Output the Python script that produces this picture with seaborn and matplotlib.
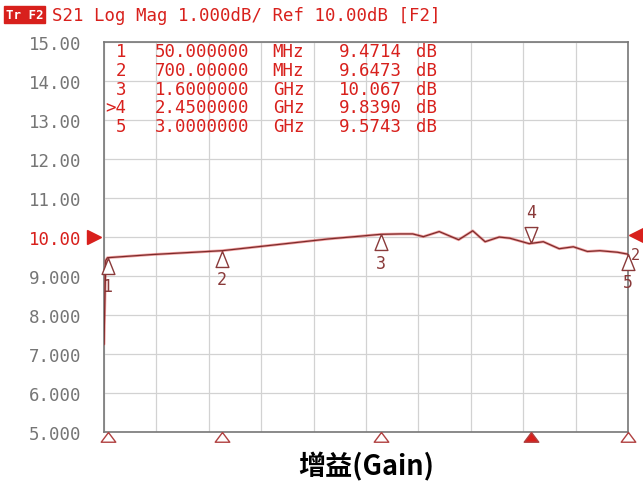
import matplotlib
matplotlib.use("Agg")
import matplotlib.pyplot as plt
import matplotlib.transforms as mtrans
import numpy as np
import pandas as pd
import seaborn as sns
from matplotlib.path import Path

# trace (GHz, dB)
freq_ghz = [0.03, 0.04, 0.05, 0.30, 0.70, 1.00, 1.30, 1.60, 1.71, 1.78, 1.84,
            1.93, 2.04, 2.12, 2.19, 2.27, 2.33, 2.44, 2.52, 2.61, 2.69, 2.77,
            2.84, 2.94, 3.00]
gain_db = [7.25, 9.40, 9.47, 9.55, 9.65, 9.80, 9.95, 10.07, 10.08, 10.08, 10.01,
           10.14, 9.93, 10.16, 9.88, 10.00, 9.97, 9.83, 9.88, 9.70, 9.75, 9.63,
           9.65, 9.61, 9.56]

marker_ids = ["1", "2", "3", "4", "5"]
marker_ghz = [0.05, 0.70, 1.60, 2.45, 3.00]
marker_db = [9.4714, 9.6473, 10.067, 9.8390, 9.5743]
marker_freq_txt = ["50.000000", "700.00000", "1.6000000", "2.4500000", "3.0000000"]
marker_unit = ["MHz", "MHz", "GHz", "GHz", "GHz"]
marker_val_txt = ["9.4714", "9.6473", "10.067", "9.8390", "9.5743"]
active_marker = "4"

y_ticks = [15, 14, 13, 12, 11, 10, 9, 8, 7, 6, 5]
y_tick_labels = ["15.00", "14.00", "13.00", "12.00", "11.00", "10.00",
                 "9.000", "8.000", "7.000", "6.000", "5.000"]
x_start, x_stop = 0.03, 3.0
ref_level = 10.0

RED = "#d8201c"
TRACE = "#7d2b2b"
MK = "#8a3a3a"
GREY = "#757575"
MONO = "DejaVu Sans Mono"

sns.set_style("white")
plt.rcParams["font.family"] = ["Noto Sans CJK SC", "DejaVu Sans"]

fig = plt.figure(figsize=(6.43, 4.85), dpi=100)
ax = fig.add_axes([0.1617, 0.1072, 0.815, 0.804])

df = pd.DataFrame({"freq": freq_ghz, "gain": gain_db})
# red glow under a darker trace, like the analyzer screen
sns.lineplot(data=df, x="freq", y="gain", ax=ax, color="#e03030", lw=2.0,
             alpha=0.45, zorder=3)
sns.lineplot(data=df, x="freq", y="gain", ax=ax, color=TRACE, lw=0.9, zorder=4)

ax.set_xlim(x_start, x_stop)
ax.set_ylim(5, 15)
ax.set_xticks(np.linspace(x_start, x_stop, 11))
ax.set_xticklabels([])
ax.set_yticks(y_ticks)
ax.set_yticklabels(y_tick_labels, family=MONO, fontsize=12.5, color=GREY)
for lbl in ax.get_yticklabels():
    if lbl.get_text() == "10.00":
        lbl.set_color(RED)
ax.tick_params(axis="y", length=0, pad=16)
ax.tick_params(axis="x", length=0)
ax.grid(True, color="#d2d2d2", lw=0.9)
ax.set_xlabel("")
ax.set_ylabel("")
for sp in ax.spines.values():
    sp.set_color("#777777")
    sp.set_linewidth(1.2)

# marker triangles on the trace (apex sits on the trace point)
up_tri = Path([(0, 0), (-0.4, -1), (0.4, -1), (0, 0)])
down_tri = Path([(0, 0), (-0.4, 1), (0.4, 1), (0, 0)])
for mid, f, v in zip(marker_ids, marker_ghz, marker_db):
    if mid == active_marker:
        ax.plot(f, v, marker=down_tri, ms=23, mfc="white", mec=MK, mew=1.0,
                zorder=5, clip_on=False)
        ax.annotate(mid, (f, v), xytext=(0, 16), textcoords="offset points",
                    ha="center", va="bottom", family=MONO, fontsize=12, color=MK)
    else:
        ax.plot(f, v, marker=up_tri, ms=23, mfc="white", mec=MK, mew=1.0,
                zorder=5, clip_on=False)
        ax.annotate(mid, (f, v), xytext=(0, -14), textcoords="offset points",
                    ha="center", va="top", family=MONO, fontsize=12, color=MK)

# stimulus markers under the grid
foot_tri = Path([(0, 0), (-0.75, -1), (0.75, -1), (0, 0)])
for mid, f in zip(marker_ids, marker_ghz):
    fill = RED if mid == active_marker else "white"
    ax.plot(f, 5, marker=foot_tri, ms=14, mfc=fill, mec="#b04040", mew=1.0,
            clip_on=False, zorder=6)

# reference level arrows
ax.plot(x_start, ref_level, marker=">", ms=10, color=RED, clip_on=False,
        transform=ax.transData + mtrans.ScaledTranslation(-10 / 100, 0, fig.dpi_scale_trans))
ax.plot(x_stop, ref_level + 0.05, marker="<", ms=10, color=RED, clip_on=False,
        transform=ax.transData + mtrans.ScaledTranslation(8 / 100, 0, fig.dpi_scale_trans))
ax.text(1.006, 0.455, "2", transform=ax.transAxes, family=MONO, fontsize=11,
        color=MK, ha="left", va="center")

# marker table
row_y = [1.0, 0.952, 0.904, 0.856, 0.808]
for i, mid in enumerate(marker_ids):
    y = row_y[i]
    tag = (">" + mid) if mid == active_marker else mid
    ax.text(0.043, y, tag, transform=ax.transAxes, family=MONO, fontsize=12.5,
            color=RED, ha="right", va="top")
    ax.text(0.097, y, marker_freq_txt[i], transform=ax.transAxes, family=MONO,
            fontsize=12.5, color=RED, ha="left", va="top")
    ax.text(0.322, y, marker_unit[i], transform=ax.transAxes, family=MONO,
            fontsize=12.5, color=RED, ha="left", va="top")
    ax.text(0.568, y, marker_val_txt[i], transform=ax.transAxes, family=MONO,
            fontsize=12.5, color=RED, ha="right", va="top")
    ax.text(0.596, y, "dB", transform=ax.transAxes, family=MONO, fontsize=12.5,
            color=RED, ha="left", va="top")

# header line
fig.text(0.009, 0.968, "Tr F2", family=MONO, fontsize=9, color="white",
         fontweight="bold", ha="left", va="center",
         bbox=dict(boxstyle="square,pad=0.15", fc=RED, ec=RED))
fig.text(0.081, 0.968, "S21 Log Mag 1.000dB/ Ref 10.00dB [F2]", family=MONO,
         fontsize=12.5, color=RED, ha="left", va="center")

ax.text(0.5, -0.05, "增益(Gain)", transform=ax.transAxes, ha="center", va="top",
        fontsize=19.5, fontweight="bold", color="black",
        family=["Noto Sans CJK SC", "DejaVu Sans"])

fig.savefig("out.png", dpi=100)
